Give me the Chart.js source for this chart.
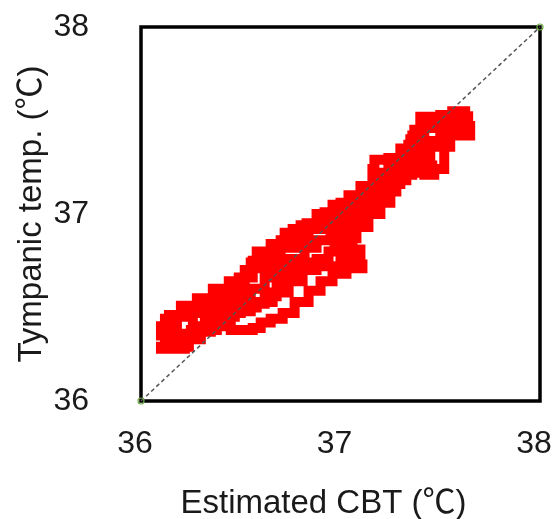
<!DOCTYPE html>
<html>
<head>
<meta charset="utf-8">
<script src="https://cdn.jsdelivr.net/npm/chart.js@4/dist/chart.umd.min.js"></script>
<style>
    html, body { margin: 0; padding: 0; background: #fff; }
</style>
</head>
<body>
<canvas id="cbtChart" width="553" height="519"></canvas>
<script>
// estimated CBT (x) vs tympanic temperature (y)
const cbt = [
    // upper side of the trace, going up
    36.10, 36.18, 36.22, 36.30, 36.38, 36.45, 36.50, 36.52, 36.56, 36.63,
    36.70, 36.76, 36.83, 36.92, 37.00, 37.06, 37.13, 37.16, 37.17, 37.24,
    37.31, 37.34, 37.37, 37.40, 37.50, 37.56, 37.65,
    // top right cluster
    37.64, 37.65, 37.58, 37.50, 37.55, 37.62, 37.46,
    // back down
    37.45, 37.40, 37.35, 37.30, 37.46, 37.32, 37.25, 37.18, 37.10, 37.04,
    36.96, 36.88, 36.80, 36.72, 36.65, 36.58, 36.55, 36.52, 36.44, 36.36,
    36.28, 36.20, 36.14, 36.12,
    // middle, going up
    36.10, 36.15, 36.20, 36.26, 36.32, 36.40, 36.48, 36.55, 36.62, 36.68,
    36.75, 36.82, 36.88, 36.95, 37.02, 37.08, 37.15, 37.22, 37.27, 37.30,
    37.36, 37.40, 37.44,
    // back down, lower side
    37.48, 37.42, 37.36, 37.28, 37.22, 37.16, 37.08, 37.01, 36.97, 36.99,
    37.10, 37.05, 36.98, 36.92, 36.86, 36.80, 36.72, 36.68, 36.62, 36.55,
    36.47, 36.40, 36.32, 36.25, 36.20, 36.12,
    // lowest side, going up
    36.10, 36.17, 36.22, 36.24, 36.30, 36.38, 36.45, 36.49, 36.56, 36.60,
    36.65, 36.71, 36.77, 36.84, 36.90, 36.96, 37.03, 37.11, 37.06, 37.00,
    37.03, 37.08, 37.14, 37.20, 37.25, 37.28, 37.33, 37.42, 37.47, 37.40,
    // down again through the middle
    37.52, 37.42, 37.36, 37.30, 37.24, 37.18, 37.12, 37.05, 36.98, 36.91,
    36.84, 36.77, 36.70, 36.63, 36.56, 36.49, 36.42, 36.34, 36.26, 36.18,
    36.12,
    // last climb, ending in the top cluster
    36.14, 36.20, 36.28, 36.35, 36.43, 36.50, 36.58, 36.66, 36.74, 36.81,
    36.88, 36.94, 37.00, 37.06, 37.12, 37.18, 37.24, 37.30, 37.36, 37.42,
    37.45, 37.55, 37.60, 37.62
];
const tympanic = [
    36.42, 36.45, 36.47, 36.50, 36.545, 36.58, 36.61, 36.68, 36.75, 36.79,
    36.86, 36.92, 36.95, 37.01, 37.06, 37.10, 37.15, 37.24, 37.29, 37.30,
    37.29, 37.37, 37.45, 37.52, 37.53, 37.55, 37.55,

    37.47, 37.42, 37.43, 37.42, 37.50, 37.50, 37.47,

    37.47, 37.40, 37.33, 37.26, 37.23, 37.22, 37.20, 37.15, 37.10, 37.05,
    37.00, 36.94, 36.90, 36.84, 36.80, 36.74, 36.70, 36.64, 36.60, 36.55,
    36.51, 36.46, 36.44, 36.40,

    36.35, 36.33, 36.36, 36.40, 36.46, 36.50, 36.54, 36.60, 36.66, 36.72,
    36.76, 36.82, 36.86, 36.91, 36.98, 37.04, 37.08, 37.14, 37.19, 37.25,
    37.30, 37.36, 37.39,

    37.38, 37.33, 37.27, 37.20, 37.12, 37.06, 36.99, 36.93, 36.85, 36.81,
    36.74, 36.72, 36.72, 36.74, 36.72, 36.68, 36.62, 36.56, 36.52, 36.48,
    36.45, 36.42, 36.38, 36.35, 36.31, 36.29,

    36.28, 36.28, 36.29, 36.33, 36.38, 36.40, 36.38, 36.38, 36.39, 36.42,
    36.44, 36.47, 36.53, 36.59, 36.64, 36.68, 36.71, 36.73, 36.76, 36.80,
    36.87, 36.93, 37.00, 37.06, 37.12, 37.18, 37.22, 37.21, 37.22, 37.24,

    37.46, 37.42, 37.35, 37.28, 37.22, 37.15, 37.10, 37.03, 36.98, 36.92,
    36.87, 36.82, 36.77, 36.71, 36.66, 36.60, 36.55, 36.50, 36.45, 36.40,
    36.36,

    36.31, 36.34, 36.37, 36.44, 36.47, 36.50, 36.53, 36.58, 36.64, 36.70,
    36.76, 36.80, 36.86, 36.95, 37.02, 37.09, 37.16, 37.21, 37.27, 37.30,
    37.36, 37.47, 37.46, 37.52
];
const identityLine = [36, 38];
const tickValues = [36, 37, 38];
const xTitle = "Estimated CBT (℃)";
const yTitle = "Tympanic temp. (℃)";

const textColor = "#1a1a1a";
const fontFamily = "'Liberation Sans', Arial, 'Noto Sans CJK JP', sans-serif";

// black box round the plot area
const framePlugin = {
    id: "frame",
    beforeDatasetsDraw(chart) {
        const { ctx, chartArea } = chart;
        ctx.save();
        ctx.strokeStyle = "#000";
        ctx.lineWidth = 3.5;
        ctx.strokeRect(chartArea.left, chartArea.top,
            chartArea.right - chartArea.left, chartArea.bottom - chartArea.top);
        ctx.restore();
    }
};

// x axis title sits a little left of the plot centre in the original
const xTitlePlugin = {
    id: "xTitle",
    afterDraw(chart) {
        const { ctx, chartArea } = chart;
        ctx.save();
        ctx.fillStyle = textColor;
        ctx.font = "33px " + fontFamily;
        ctx.textAlign = "center";
        ctx.textBaseline = "alphabetic";
        ctx.fillText(xTitle, (chartArea.left + chartArea.right) / 2 - 17, 513);
        ctx.restore();
    }
};

const ctx = document.getElementById("cbtChart").getContext("2d");

new Chart(ctx, {
    type: "scatter",

    data: {
        datasets: [
            {
                label: "y = x",
                data: identityLine.map(v => ({ x: v, y: v })),
                showLine: true,
                borderColor: "#555",
                borderWidth: 1.5,
                borderDash: [4, 3],
                pointRadius: 3,
                pointBorderWidth: 1.2,
                pointBorderColor: "#70ad47",
                pointBackgroundColor: "rgba(0,0,0,0)",
                clip: false
            },
            {
                label: "Tympanic vs estimated CBT",
                data: cbt.map((x, i) => ({ x: x, y: tympanic[i] })),
                showLine: true,
                stepped: true,
                borderColor: "#ff0000",
                borderWidth: 10,
                borderJoinStyle: "miter",
                pointRadius: 0
            }
        ]
    },

    options: {
        responsive: false,
        animation: false,
        layout: {
            padding: { top: 27, right: 13, left: 0, bottom: 0 }
        },
        plugins: {
            legend: { display: false },
            tooltip: { enabled: false }
        },
        scales: {
            x: {
                type: "linear",
                min: 36,
                max: 38,
                afterBuildTicks: s => { s.ticks = tickValues.map(v => ({ value: v })); },
                afterFit: s => {
                    s.height = 118;
                    s.paddingLeft = 0;
                    s.paddingRight = 0;
                },
                grid: { display: false },
                border: { display: false },
                ticks: {
                    padding: 16,
                    labelOffset: -6,
                    color: textColor,
                    font: { family: fontFamily, size: 32 }
                },
                title: { display: false }
            },
            y: {
                min: 36,
                max: 38,
                afterBuildTicks: s => { s.ticks = tickValues.map(v => ({ value: v })); },
                afterFit: s => {
                    s.width = 141;
                    s.paddingTop = 0;
                    s.paddingBottom = 0;
                },
                grid: { display: false },
                border: { display: false },
                ticks: {
                    padding: 44,
                    color: textColor,
                    font: { family: fontFamily, size: 32 }
                },
                title: {
                    display: true,
                    text: yTitle,
                    color: textColor,
                    font: { family: fontFamily, size: 33 },
                    padding: { top: 12, bottom: 0 }
                }
            }
        }
    },

    plugins: [framePlugin, xTitlePlugin]
});
</script>
</body>
</html>
